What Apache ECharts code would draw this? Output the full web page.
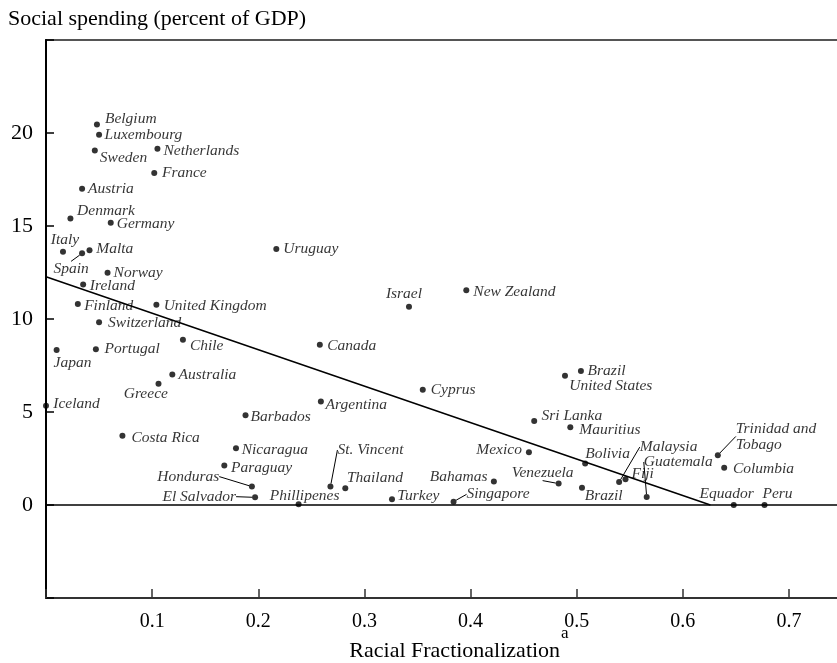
<!DOCTYPE html>
<html><head><meta charset="utf-8">
<script src="https://cdn.jsdelivr.net/npm/echarts@6.0.0/dist/echarts.min.js"></script>
<style>html,body{margin:0;padding:0;background:#fff}#c{width:837px;height:663px}</style>
</head><body><div id="c"></div>
<script>
// ---- data ----
const countries = ['Belgium','Luxembourg','Sweden','Netherlands','France','Austria','Denmark','Germany','Italy','Spain','Malta','Uruguay','Norway','Ireland','Finland','United Kingdom','Switzerland','Chile','Japan','Portugal','Australia','Greece','Iceland','Barbados','Costa Rica','Nicaragua','Paraguay','Honduras','El Salvador','Phillipenes','St. Vincent','Thailand','Turkey','Israel','New Zealand','Canada','Cyprus','Argentina','Brazil','United States','Sri Lanka','Mauritius','Mexico','Bolivia','Venezuela','Bahamas','Singapore','Brazil','Malaysia','Fiji','Guatemala','Trinidad and Tobago','Columbia','Equador','Peru'];
const fractionalization = [0.048,0.050,0.046,0.105,0.102,0.034,0.023,0.061,0.016,0.034,0.041,0.217,0.058,0.035,0.030,0.104,0.050,0.129,0.010,0.047,0.119,0.106,0.000,0.188,0.072,0.179,0.168,0.194,0.197,0.238,0.268,0.282,0.326,0.342,0.396,0.258,0.355,0.259,0.504,0.489,0.460,0.494,0.455,0.508,0.483,0.422,0.384,0.505,0.540,0.546,0.566,0.633,0.639,0.648,0.677];
const spending = [20.46,19.90,19.06,19.15,17.85,17.00,15.40,15.17,13.61,13.53,13.70,13.76,12.49,11.86,10.81,10.77,9.83,8.88,8.33,8.38,7.02,6.52,5.34,4.82,3.72,3.05,2.13,0.99,0.41,0.04,0.99,0.90,0.31,10.66,11.54,8.61,6.20,5.56,7.20,6.95,4.52,4.18,2.84,2.23,1.15,1.27,0.18,0.93,1.23,1.38,0.43,2.68,2.00,0.00,0.00];
const fitX = [0, 0.626];
const fitY = [12.27, 0];
const xTickLabels = ['0.1','0.2','0.3','0.4','0.5','0.6','0.7'];
const yTickLabels = ['0','5','10','15','20'];
const leaderLines = ['Spain','Honduras','El Salvador','St. Vincent','Venezuela','Singapore','Malaysia','Guatemala','Trinidad and Tobago'];

// ---- label placement (layout only): [align, dx, dy] from dot centre, px ----
const labelPlacement = [
 ['left',8,-6],['left',5.5,0],['left',5,7],['left',6,2],['left',7.7,0],['left',6,0],['left',6.7,-8],['left',6,1],
 ['center',2,-12],['center',-11,16],['left',6.7,-1],['left',7,0],['left',6,0],['left',6.7,1.7],['left',6.3,2],
 ['left',7.3,1.3],['left',9,0.4],['left',7,6],['left',-3,12.4],['left',8.7,0],['left',6.3,0.3],['center',-12.7,10.3],
 ['left',7.3,-2],['left',5,1.3],['left',9,1.7],['left',5.7,1.3],['left',6.7,2.7],['right',-32.7,-10],['right',-19,-0.7],
 ['center',6,-8.3],['left',7,-36.6],['left',1.6,-10],['left',5.3,-3.3],['center',-5,-12.7],['left',7,2],['left',7.4,1],
 ['left',8,0.7],['left',4.7,3.3],['left',6.7,-0.6],['left',4.3,10],['left',7.3,-4.6],['left',9,3],['right',-7,-2.7],
 ['left',0,-9.7],['center',-16,-11],['right',-6.4,-4.3],['left',13,-7.3],['left',2.7,8.4],['left',20.6,-35],['left',6,-5],
 ['center',31.5,-35],['left',18,-18.7],['left',8.7,1],['center',-7,-10.7],['center',13,-10.7]
];

const FONT = 'Liberation Serif';
const scatterData = countries.map((n, i) => ({
  name: n,
  value: [fractionalization[i], spending[i]],
  labelLine: { show: leaderLines.indexOf(n) >= 0 }
}));

const chart = echarts.init(document.getElementById('c'), null, { renderer: 'canvas' });
chart.setOption({
  animation: false,
  backgroundColor: '#fff',
  title: {
    text: 'Social spending (percent of GDP)',
    left: 3, top: 3,
    textStyle: { fontFamily: FONT, fontSize: 22, fontWeight: 'normal', color: '#000' }
  },
  grid: {
    left: 46, top: 40, width: 796, bottom: 65,
    containLabel: false, outerBoundsMode: 'none',
    show: true, borderColor: '#555', borderWidth: 2, backgroundColor: 'transparent'
  },
  xAxis: {
    type: 'value', min: 0, max: 0.75, interval: 0.1,
    splitLine: { show: false },
    axisLine: { show: true, onZero: false, lineStyle: { color: '#333', width: 2 } },
    axisTick: { show: true, inside: true, length: 9, lineStyle: { color: '#333', width: 1.5 } },
    axisLabel: {
      margin: 14, fontFamily: FONT, fontSize: 20, color: '#000',
      formatter: v => { const s = Number(v).toFixed(1); return xTickLabels.indexOf(s) >= 0 ? s : ''; }
    },
    name: 'Racial Fractionalization{sup|a}',
    nameLocation: 'middle', nameGap: 27, nameMoveOverlap: false,
    nameTextStyle: {
      fontFamily: FONT, fontSize: 22, color: '#000', lineHeight: 52, padding: [0, 0, 0, 30],
      rich: { sup: { fontFamily: FONT, fontSize: 17, lineHeight: 15, verticalAlign: 'top', padding: [0, 0, 0, 1], color: '#000' } }
    }
  },
  yAxis: {
    type: 'value', min: -5, max: 25, interval: 5,
    splitLine: { show: false },
    axisLine: { show: true, onZero: false, lineStyle: { color: '#000', width: 2 } },
    axisTick: { show: true, inside: true, length: 8, lineStyle: { color: '#000', width: 1.5 } },
    axisLabel: {
      margin: 13, fontFamily: FONT, fontSize: 22, color: '#000',
      formatter: v => { const s = String(Math.round(v)); return yTickLabels.indexOf(s) >= 0 ? s : ''; }
    }
  },
  series: [
    {
      type: 'line',
      data: fitX.map((x, i) => [x, fitY[i]]),
      symbol: 'none', silent: true, z: 1,
      lineStyle: { color: '#000', width: 1.5 },
      markLine: {
        silent: true, symbol: 'none', label: { show: false },
        lineStyle: { color: '#000', width: 1.5, type: 'solid' },
        data: [{ yAxis: 0 }]
      }
    },
    {
      type: 'scatter', z: 3,
      data: scatterData,
      symbol: 'circle', symbolSize: 6,
      itemStyle: { color: '#000' },
      label: {
        show: true,
        formatter: p => p.name === 'Trinidad and Tobago' ? 'Trinidad and\nTobago' : p.name,
        fontFamily: FONT, fontStyle: 'italic', fontSize: 15.5, color: '#000', lineHeight: 16
      },
      labelLine: { show: false, length2: 0, lineStyle: { color: '#000', width: 1 } },
      labelLayout: function (p) {
        const pl = labelPlacement[p.dataIndex];
        const cx = p.rect.x + p.rect.width / 2, cy = p.rect.y + p.rect.height / 2;
        return { x: cx + pl[1], y: cy + pl[2], align: pl[0], verticalAlign: 'middle', hideOverlap: false };
      },
      emphasis: { disabled: true }
    }
  ]
});
</script>
</body></html>
